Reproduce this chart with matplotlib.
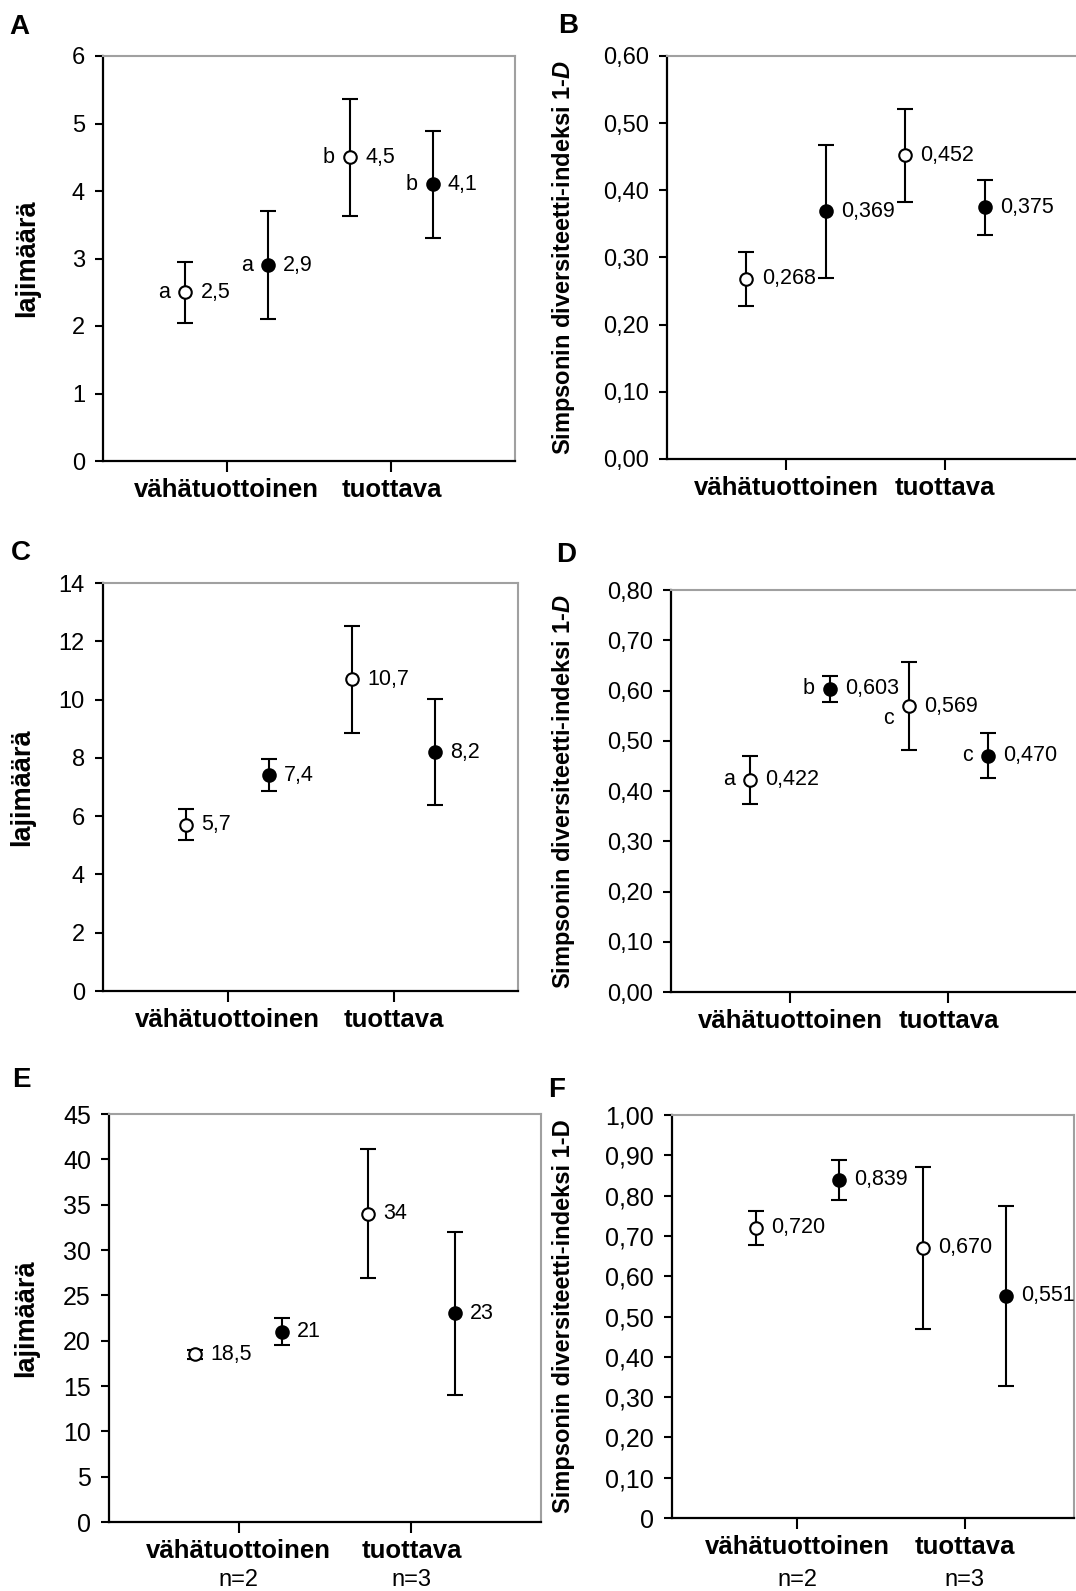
import matplotlib.pyplot as plt

plt.rcParams['font.family'] = ['Liberation Sans', 'DejaVu Sans']
plt.rcParams['mathtext.fontset'] = 'custom'
plt.rcParams['mathtext.it'] = 'Liberation Sans:italic:bold'
plt.rcParams['mathtext.rm'] = 'Liberation Sans:bold'

W, H = 1076, 1591

categories = ['vähätuottoinen', 'tuottava']
sample_sizes = ['n=2', 'n=3']
x_pos = [1, 2, 3, 4]          # avoin, täytetty, avoin, täytetty
filled = [False, True, False, True]

# A: lajimäärä
a_vals = [2.5, 2.9, 4.5, 4.1]
a_err = [0.45, 0.80, 0.87, 0.79]
a_text = ['2,5', '2,9', '4,5', '4,1']
a_letters = ['a', 'a', 'b', 'b']

# B: Simpson 1-D
b_vals = [0.268, 0.369, 0.452, 0.375]
b_err = [0.040, 0.099, 0.069, 0.041]
b_text = ['0,268', '0,369', '0,452', '0,375']

# C: lajimäärä
c_vals = [5.7, 7.4, 10.7, 8.2]
c_err = [0.53, 0.55, 1.83, 1.82]
c_text = ['5,7', '7,4', '10,7', '8,2']

# D: Simpson 1-D
d_vals = [0.422, 0.603, 0.569, 0.470]
d_err = [0.048, 0.026, 0.087, 0.045]
d_text = ['0,422', '0,603', '0,569', '0,470']
d_letters = ['a', 'b', 'c', 'c']

# E: lajimäärä
e_vals = [18.5, 21, 34, 23]
e_err = [0.5, 1.5, 7.1, 9.0]
e_text = ['18,5', '21', '34', '23']

# F: Simpson 1-D
f_vals = [0.720, 0.839, 0.670, 0.551]
f_err = [0.043, 0.050, 0.200, 0.224]
f_text = ['0,720', '0,839', '0,670', '0,551']

ylab_laji = 'lajimäärä'
ylab_simp = 'Simpsonin diversiteetti-indeksi 1-$\\mathit{D}$'
ylab_simp_f = 'Simpsonin diversiteetti-indeksi 1-D'


def add_panel(fig, rect, xmax, vals, errs, texts, ylim, yticks, yticklabels,
              ylabel, ylabel_x, letter, letter_xy, letters=None, nlabels=False,
              tick_fs=17, ylabel_fs=18, letter_offsets=None):
    l, t, r, b = rect
    ax = fig.add_axes([l / W, 1 - b / H, (r - l) / W, (b - t) / H])

    for i in range(len(vals)):
        face = 'black' if filled[i] else 'white'
        ax.errorbar(x_pos[i], vals[i], yerr=errs[i], fmt='o', color='black',
                    mfc=face, mec='black', mew=1.5, ms=9, elinewidth=1.5,
                    capsize=6, capthick=1.5, zorder=3)
        ax.annotate(texts[i], (x_pos[i], vals[i]), xytext=(11, 0),
                    textcoords='offset points', ha='left', va='center',
                    fontsize=15.5)
        if letters is not None:
            off = (-11, 0)
            if letter_offsets is not None and letter_offsets[i] is not None:
                off = letter_offsets[i]
            ax.annotate(letters[i], (x_pos[i], vals[i]), xytext=off,
                        textcoords='offset points', ha='right', va='center',
                        fontsize=15.5)

    ax.set_xlim(0, xmax)
    ax.set_ylim(*ylim)
    ax.set_yticks(yticks)
    ax.set_yticklabels([s.replace('.', ',') for s in yticklabels], fontsize=tick_fs)
    ax.set_xticks([1.5, 3.5])
    ax.set_xticklabels(categories, fontsize=18.5, fontweight='bold')

    ax.spines['left'].set_linewidth(1.6)
    ax.spines['bottom'].set_linewidth(1.6)
    for s in ['top', 'right']:
        ax.spines[s].set_color('#a0a0a0')
        ax.spines[s].set_linewidth(1.5)
    ax.tick_params(axis='y', length=6, width=1.5, pad=7)
    ax.tick_params(axis='x', length=8, width=1.5, pad=4)

    ax.set_ylabel(ylabel, fontsize=ylabel_fs, fontweight='bold')
    ax.yaxis.set_label_coords((ylabel_x - l) / (r - l), 0.5)

    if nlabels:
        for k, n in enumerate(sample_sizes):
            ax.text([1.5, 3.5][k], -(1580 - b) / (b - t), n,
                    transform=ax.get_xaxis_transform(), ha='center',
                    va='center', fontsize=17)

    fig.text(letter_xy[0] / W, 1 - letter_xy[1] / H, letter, fontsize=20,
             fontweight='bold', ha='center', va='center')
    return ax


fig = plt.figure(figsize=(W / 100, H / 100), dpi=100)

simp_ticks6 = [i / 10 for i in range(7)]
simp_ticks8 = [i / 10 for i in range(9)]
simp_ticks10 = [i / 10 for i in range(11)]

add_panel(fig, (103, 56, 515, 461), 5, a_vals, a_err, a_text, (0, 6),
          range(0, 7), [str(v) for v in range(0, 7)], ylab_laji, 40, 'A', (19, 27),
          letters=a_letters, ylabel_fs=19.5)

add_panel(fig, (667, 56, 1080, 459), 5.2, b_vals, b_err, b_text, (0, 0.6),
          simp_ticks6, ['%.2f' % v for v in simp_ticks6], ylab_simp, 577, 'B',
          (568, 26), ylabel_fs=17)

add_panel(fig, (103, 583, 518, 991), 5, c_vals, c_err, c_text, (0, 14),
          range(0, 15, 2), [str(v) for v in range(0, 15, 2)], ylab_laji, 35, 'C',
          (21, 553), ylabel_fs=19.5)

add_panel(fig, (671, 590, 1080, 992), 5.16, d_vals, d_err, d_text, (0, 0.8),
          simp_ticks8, ['%.2f' % v for v in simp_ticks8], ylab_simp, 577, 'D',
          (566, 555), letters=d_letters, ylabel_fs=17,
          letter_offsets=[None, None, (-11, -9), None])

add_panel(fig, (109, 1114, 541, 1522), 5, e_vals, e_err, e_text, (0, 45),
          range(0, 46, 5), [str(v) for v in range(0, 46, 5)], ylab_laji, 39, 'E',
          (21, 1080), nlabels=True, tick_fs=18, ylabel_fs=19.5)

f_ticklabels = ['%.2f' % v for v in simp_ticks10]
f_ticklabels[0] = '0'
add_panel(fig, (672, 1115, 1074, 1518), 4.81, f_vals, f_err, f_text, (0, 1.0),
          simp_ticks10, f_ticklabels, ylab_simp_f, 575, 'F', (557, 1090),
          nlabels=True, tick_fs=18, ylabel_fs=17)

fig.savefig('out.png', dpi=100)
